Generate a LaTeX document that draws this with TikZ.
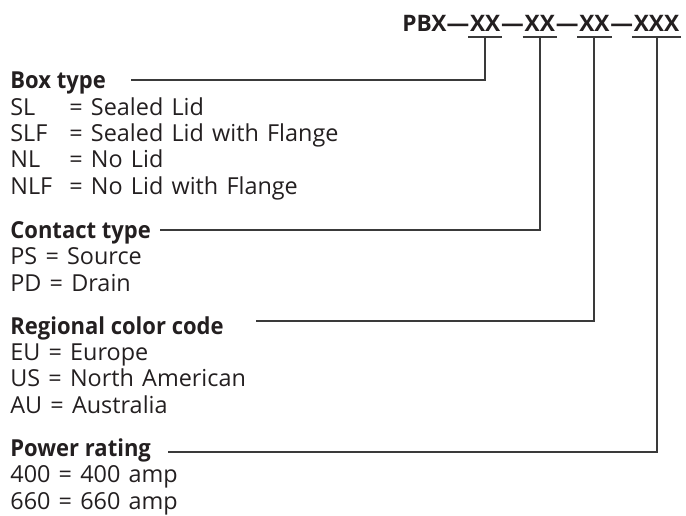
\documentclass[tikz,border=0pt]{standalone}
\usepackage{fontspec}
\setmainfont[WordSpace=1.35]{Open Sans}
\newfontfamily\headfont[FakeStretch=0.94]{Open Sans}
\usetikzlibrary{positioning}
\definecolor{ink}{HTML}{231F20}
\definecolor{rule}{HTML}{3A3A3A}
\newcommand{\cd}[1]{\makebox[29.5pt][l]{#1}}
\newcommand{\head}[1]{{\headfont\bfseries #1}}

\begin{document}
\begin{tikzpicture}[x=0.5pt,y=-0.5pt,
    legend/.style={anchor=base west, align=left, inner sep=0pt, text=ink,
      font=\fontsize{11.7}{13.15}\selectfont},
    part/.style={anchor=base west, inner sep=0pt, text=ink,
      font=\fontsize{11.35}{13}\selectfont\bfseries},
    lead/.style={draw=rule, line width=1pt},
    underbar/.style={draw=rule, line width=0.8pt, shorten <=-0.8pt, shorten >=-0.8pt}]
    \useasboundingbox (0,0) rectangle (686,515);

    % part number
    \node[part] (pbx) at (402,31.7) {PBX\textemdash};
    \node[part] (xa) at (pbx.base east) {XX};
    \node[part] (da) at (xa.base east) {\textemdash};
    \node[part] (xb) at (da.base east) {XX};
    \node[part] (db) at (xb.base east) {\textemdash};
    \node[part] (xc) at (db.base east) {XX};
    \node[part] (dc) at (xc.base east) {\textemdash};
    \node[part] (xd) at (dc.base east) {XXX};

    % legend (base = last line)
    \node[legend] (box) at (10,194) {\head{Box type}\\
      \cd{SL}= Sealed Lid\\
      \cd{SLF}= Sealed Lid with Flange\\
      \cd{NL}= No Lid\\
      \cd{NLF}= No Lid with Flange};
    \node[legend] (contact) at (10,291) {\head{Contact type}\\
      PS = Source\\
      PD = Drain};
    \node[legend] (region) at (10,413) {\head{Regional color code}\\
      EU = Europe\\
      US = North American\\
      AU = Australia};
    \node[legend] (power) at (10,509) {\head{Power rating}\\
      400 = 400 amp\\
      660 = 660 amp};

    \coordinate (box-in) at (131,80);
    \coordinate (contact-in) at (160,230);
    \coordinate (region-in) at (256,321);
    \coordinate (power-in) at (168,452);

    % leaders
    \foreach \x/\y in {xa/box,xb/contact,xc/region,xd/power}{
      \draw[underbar] ([yshift=-2.5pt]\x.south west) -- ([yshift=-2.5pt]\x.south east);
      \draw[lead] ([yshift=-2.5pt]\x.south) |- (\y-in);
    }
\end{tikzpicture}
\end{document}
